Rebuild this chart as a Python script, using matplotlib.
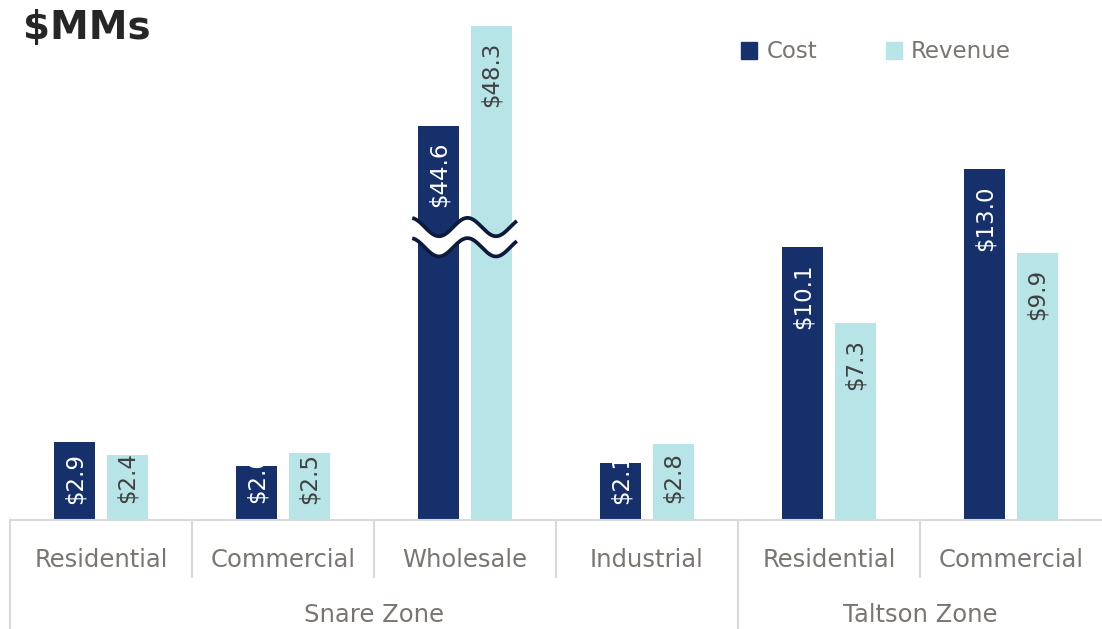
import numpy as np
import matplotlib
matplotlib.use("Agg")
import matplotlib.pyplot as plt
from matplotlib.patches import Patch

# data (in $MM)
categories = ["Residential", "Commercial", "Wholesale", "Industrial", "Residential", "Commercial"]
zones = ["Snare Zone", "Taltson Zone"]
zone_sizes = [4, 2]
cost = [2.9, 2.0, 44.6, 2.1, 10.1, 13.0]
revenue = [2.4, 2.5, 48.3, 2.8, 7.3, 9.9]
broken_cat = "Wholesale"
break_cut = 30.0  # amount removed from the broken bars

COST_C = "#15306b"
REV_C = "#b7e4e6"
GRID_C = "#d9d9d9"
TXT_C = "#7a7570"
FONT = "DejaVu Sans"

W, H = 1102, 629
fig = plt.figure(figsize=(W / 100, H / 100), dpi=100)
ax = fig.add_axes([10 / W, 1 - 520 / H, 1 - 10 / W, 510 / H])
ax.set_xlim(-0.5, len(categories) - 0.5)
ax.set_ylim(0, 510 / 27)
for s in ax.spines.values():
    s.set_visible(False)
ax.set_xticks([])
ax.set_yticks([])

x = np.arange(len(categories))
bw = 0.225
off = 0.143
broken_idx = categories.index(broken_cat)


def shown(vals):
    return [v - break_cut if i == broken_idx else v for i, v in enumerate(vals)]


cost_h = shown(cost)
rev_h = shown(revenue)
ax.bar(x - off, cost_h, bw, color=COST_C, zorder=2)
ax.bar(x + off, rev_h, bw, color=REV_C, zorder=2)


def put_labels(xs, hs, vals, color):
    for xi, h, v in zip(xs, hs, vals):
        y = max(h - 0.6, 2.5)
        ax.text(xi, y, f"${v:.1f}", rotation=90, ha="center", va="top",
                color=color, fontsize=16.5, family=FONT, zorder=3)


put_labels(x - off, cost_h, cost, "white")
put_labels(x + off, rev_h, revenue, "#404040")

# axis break squiggle across the Wholesale bars
xs = np.linspace(-0.29, 0.285, 200)
px = xs * 182
wave = -0.34 * np.cos(2 * np.pi * (px + 26) / 57)
up = 10.85 + wave
lo = up - 0.75
ax.fill_between(broken_idx + xs, lo, up, color="white", zorder=4)
ax.plot(broken_idx + xs, up, color="#0c1a3c", lw=2.7, zorder=5, solid_capstyle="butt")
ax.plot(broken_idx + xs, lo, color="#0c1a3c", lw=2.7, zorder=5, solid_capstyle="butt")

# category axis with two levels
trans = ax.get_xaxis_transform()
ax.plot([-0.5, len(categories) - 0.5], [0, 0], color=GRID_C, lw=1.5,
        transform=trans, clip_on=False)
ax.plot([-0.5, -0.5], [0, -109 / 510], color=GRID_C, lw=1.5, transform=trans, clip_on=False)
bounds = np.cumsum(zone_sizes) - 0.5
for b in np.arange(0.5, len(categories) - 0.5):
    depth = 109 if b in bounds else 57
    ax.plot([b, b], [0, -depth / 510], color=GRID_C, lw=1.5, transform=trans, clip_on=False)

for xi, c in zip(x, categories):
    ax.text(xi, -40 / 510, c, ha="center", va="center", color=TXT_C,
            fontsize=17.5, family=FONT, transform=trans)
start = -0.5
for z, n in zip(zones, zone_sizes):
    ax.text(start + n / 2, -95 / 510, z, ha="center", va="center", color=TXT_C,
            fontsize=17.5, family=FONT, transform=trans)
    start += n

fig.text(23 / W, 1 - 28 / H, "$MMs", fontsize=28, fontweight="bold",
         color="#262626", family=FONT, va="center", ha="left")

handles = [Patch(color=COST_C, label="Cost"), Patch(color=REV_C, label="Revenue")]
fig.legend(handles=handles, loc="center", bbox_to_anchor=(876 / W, 1 - 52 / H), ncol=2,
           frameon=False, handlelength=0.7, handleheight=0.7, handletextpad=0.4,
           columnspacing=3.0, prop={"family": FONT, "size": 16.5}, labelcolor=TXT_C)

fig.savefig("out.png", dpi=100)
